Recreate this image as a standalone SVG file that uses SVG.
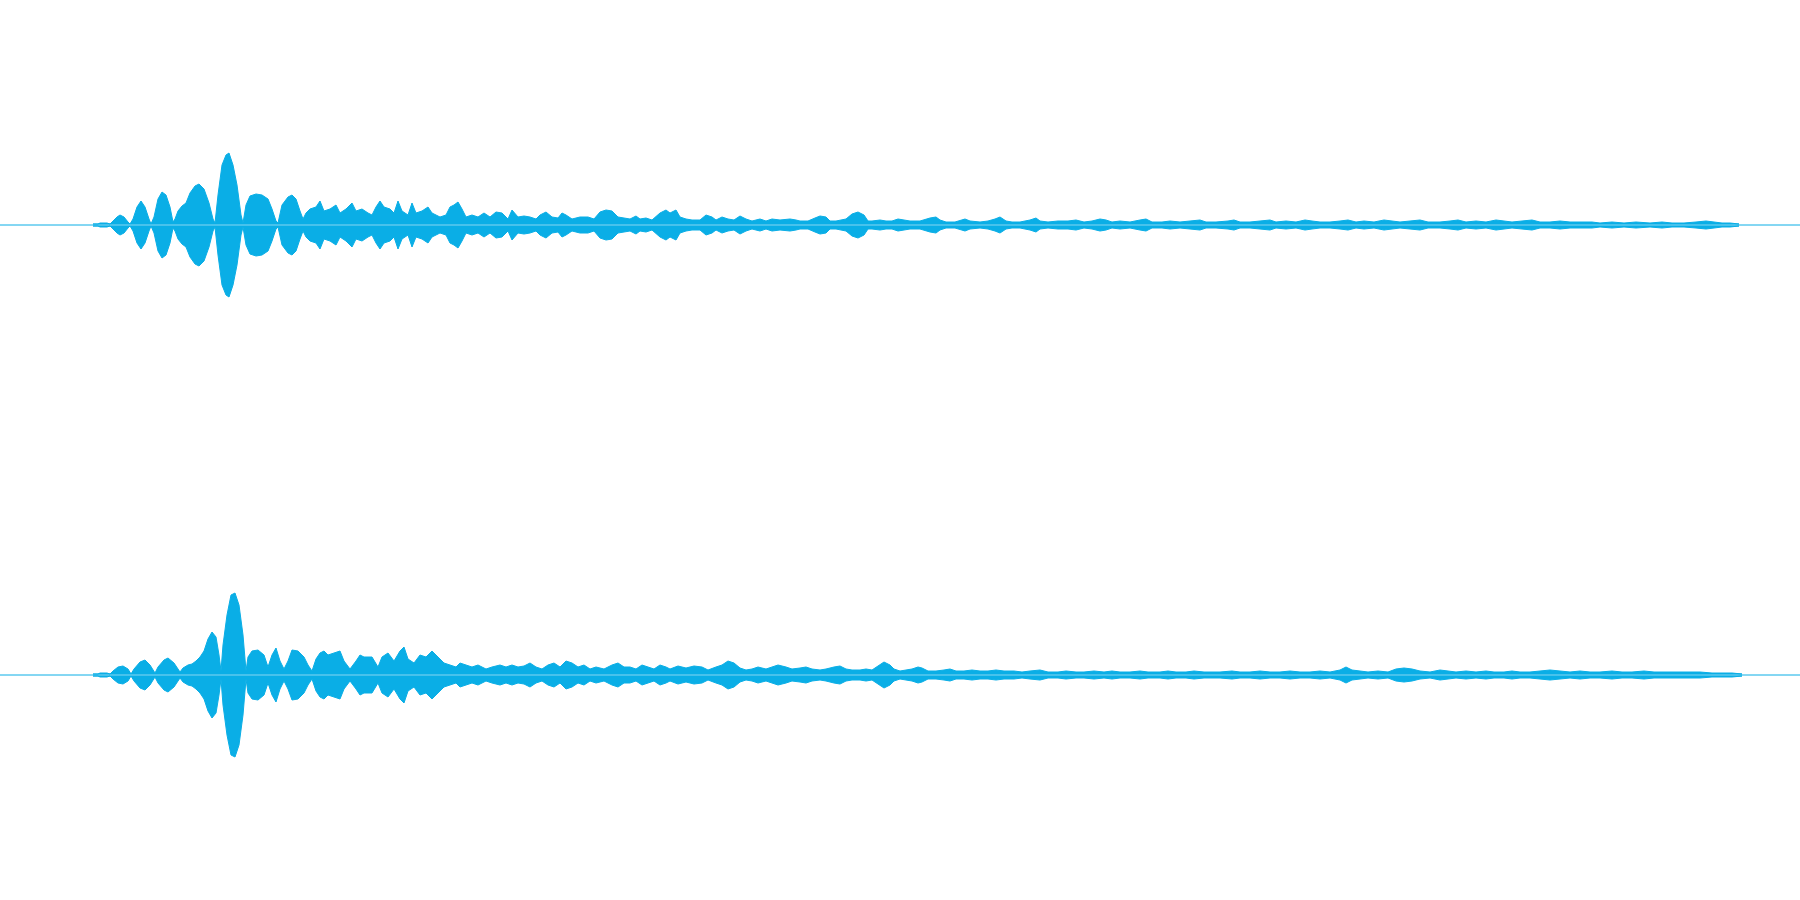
<svg xmlns="http://www.w3.org/2000/svg" width="1800" height="900" viewBox="0 0 1800 900">
<style>.w{fill:#0aaee6;stroke:#0aaee6;stroke-width:1}.b{stroke:#0aaee6;stroke-width:1}</style>
<defs>
<polygon id="e1" points="93,1 98,1 100,2 107,2 110,1 113,4 117,8 120,10 124,8 128,3 130,1 133,6 137,18 141,24 145,18 149,6 151,1 154,8 158,26 162,33 166,30 170,18 173,3 175,6 178,14 182,19 186,22 190,32 195,39 199,41 204,36 209,22 213,6 215,2 218,30 222,60 226,70 229,72 233,60 237,40 241,10 243,2 246,20 250,29 256,31 262,30 268,26 272,16 276,4 278,2 282,20 288,28 292,30 296,26 300,14 303,6 306,12 310,16 316,18 320,24 324,14 330,16 336,20 340,12 346,16 352,22 356,14 362,16 368,12 372,10 376,18 380,24 384,18 390,16 394,12 398,24 402,14 408,10 412,22 416,12 422,14 428,18 432,12 436,10 440,8 446,10 450,18 454,20 458,23 462,16 466,8 472,10 478,8 484,12 490,8 496,13 502,12 508,6 512,15 518,8 524,9 530,8 536,6 540,10 546,13 552,8 558,7 562,12 566,10 572,6 580,8 588,8 594,6 600,13 606,15 612,14 618,8 624,7 630,6 636,9 640,6 646,7 652,5 660,12 666,15 670,12 676,15 680,8 686,6 692,5 700,5 706,10 712,8 716,5 722,8 728,6 734,5 740,9 746,6 752,4 760,6 766,4 772,6 780,5 790,6 796,5 800,4 808,4 815,7 820,9 826,8 830,4 836,4 846,6 852,11 858,13 864,10 868,4 872,4 880,5 886,4 892,4 898,6 904,5 910,4 920,4 930,7 936,8 940,5 946,3 955,3 965,6 970,4 980,3 988,4 995,6 1000,8 1006,4 1012,3 1020,3 1030,5 1036,7 1040,4 1048,3 1058,4 1068,4 1076,5 1084,3 1092,4 1100,6 1106,5 1112,3 1120,4 1130,3 1140,5 1146,6 1152,3 1162,3 1170,4 1180,3 1190,4 1200,5 1206,3 1216,3 1228,4 1234,5 1240,3 1250,3 1260,4 1270,5 1276,3 1286,4 1296,3 1305,5 1312,4 1320,3 1330,3 1340,4 1348,5 1356,3 1364,4 1374,3 1384,5 1392,4 1400,3 1410,4 1420,5 1428,3 1440,3 1450,4 1458,5 1466,3 1476,4 1486,3 1496,5 1504,4 1512,3 1522,4 1532,5 1540,3 1550,3 1560,4 1570,3 1580,3 1592,3 1600,2 1612,3 1624,2 1636,3 1650,2 1662,3 1672,2 1684,2 1696,3 1706,4 1714,3 1722,2 1730,2 1739,1"/>
<polygon id="e2" points="93,1 98,1 100,2 107,2 110,1 113,4 118,8 123,9 128,6 131,1 134,6 140,13 145,15 150,10 155,2 158,8 164,15 168,17 174,12 180,3 183,7 188,10 192,11 196,14 200,18 204,24 208,36 212,43 216,38 219,20 221,4 223,30 227,60 231,80 235,82 239,70 243,40 246,4 248,18 252,24 258,25 264,20 268,8 272,20 276,27 280,14 284,6 288,14 292,25 298,24 304,18 308,10 312,4 316,16 320,22 324,24 328,20 334,22 340,24 344,14 350,6 356,14 360,20 364,18 372,18 378,8 382,18 388,22 394,14 400,24 404,28 408,16 414,12 420,20 426,18 432,24 438,18 444,12 450,10 456,8 460,12 466,10 472,8 478,10 486,6 492,8 500,10 506,8 512,10 518,8 524,9 530,12 536,8 542,6 548,10 554,12 560,8 566,14 572,12 578,8 584,10 590,6 596,8 604,6 612,10 618,12 624,8 630,8 636,6 642,10 648,8 654,6 660,10 666,8 670,6 678,9 686,7 694,9 702,8 708,5 716,8 722,10 728,14 734,12 740,7 746,5 752,6 758,8 766,6 772,8 778,10 786,8 792,6 800,7 806,8 812,6 820,5 826,6 834,8 840,9 846,6 852,5 860,5 866,6 872,5 878,9 884,13 890,10 894,6 900,4 906,5 912,6 918,8 922,7 928,4 936,4 944,5 950,6 956,4 964,4 972,5 980,4 988,4 996,5 1004,4 1014,4 1022,3 1030,4 1040,5 1048,3 1058,3 1066,4 1076,3 1084,3 1094,4 1104,3 1112,4 1120,3 1130,3 1140,4 1148,3 1160,3 1168,4 1176,3 1186,3 1194,4 1204,3 1212,3 1220,3 1232,4 1240,3 1250,3 1260,4 1270,3 1280,3 1290,4 1300,3 1310,3 1320,4 1330,3 1340,5 1346,8 1352,5 1360,4 1368,3 1378,4 1388,3 1396,6 1404,7 1412,6 1420,4 1430,3 1440,5 1448,4 1456,3 1466,4 1476,3 1486,4 1494,3 1504,3 1512,4 1520,3 1530,3 1540,4 1550,5 1560,4 1570,3 1580,4 1590,3 1600,3 1612,4 1622,3 1632,3 1644,4 1654,3 1664,3 1674,3 1686,3 1700,3 1712,2 1724,2 1732,2 1742,1"/>
</defs>
<line class="b" x1="0" y1="225" x2="1800" y2="225"/>
<line class="b" x1="0" y1="675" x2="1800" y2="675"/>
<g id="channel1">
<use href="#e1" class="w" transform="translate(0,225) scale(1,-1)"/>
<use href="#e1" class="w" transform="translate(0,225)"/>
</g>
<g id="channel2">
<use href="#e2" class="w" transform="translate(0,675) scale(1,-1)"/>
<use href="#e2" class="w" transform="translate(0,675)"/>
</g>
</svg>
